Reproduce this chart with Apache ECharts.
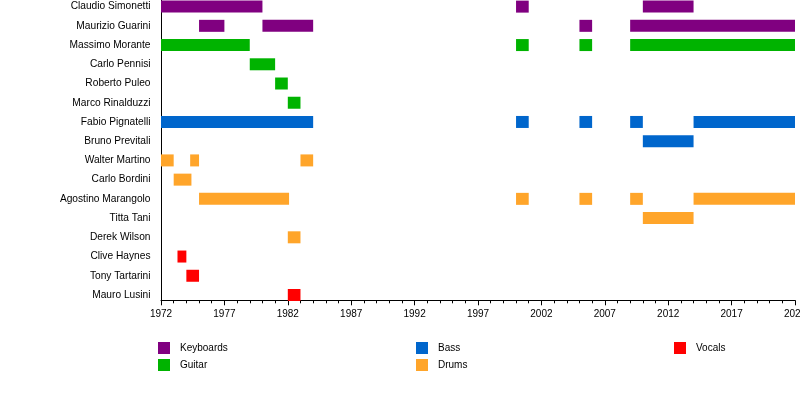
<!DOCTYPE html>
<html>
<head>
<meta charset="utf-8">
<script src="https://cdn.jsdelivr.net/npm/echarts@6/dist/echarts.min.js"></script>
<style>html,body{margin:0;padding:0;background:#fff}#c{width:800px;height:420px}</style>
</head>
<body>
<div id="c"></div>
<script>
const members = ['Claudio Simonetti','Maurizio Guarini','Massimo Morante','Carlo Pennisi','Roberto Puleo','Marco Rinalduzzi','Fabio Pignatelli','Bruno Previtali','Walter Martino','Carlo Bordini','Agostino Marangolo','Titta Tani','Derek Wilson','Clive Haynes','Tony Tartarini','Mauro Lusini'];
const roles = ['Keyboards','Guitar','Bass','Drums','Vocals'];
const yearTicks = [1972,1977,1982,1987,1992,1997,2002,2007,2012,2017,2022];

const keyboards = [
  ['Claudio Simonetti',1972,1980],['Claudio Simonetti',2000,2001],['Claudio Simonetti',2010,2014],
  ['Maurizio Guarini',1975,1977],['Maurizio Guarini',1980,1984],['Maurizio Guarini',2005,2006],['Maurizio Guarini',2009,2022]
];
const guitar = [
  ['Massimo Morante',1972,1979],['Massimo Morante',2000,2001],['Massimo Morante',2005,2006],['Massimo Morante',2009,2022],
  ['Carlo Pennisi',1979,1981],['Roberto Puleo',1981,1982],['Marco Rinalduzzi',1982,1983]
];
const bass = [
  ['Fabio Pignatelli',1972,1984],['Fabio Pignatelli',2000,2001],['Fabio Pignatelli',2005,2006],['Fabio Pignatelli',2009,2010],['Fabio Pignatelli',2014,2022],
  ['Bruno Previtali',2010,2014]
];
const drums = [
  ['Walter Martino',1972,1973],['Walter Martino',1974.3,1975],['Walter Martino',1983,1984],
  ['Carlo Bordini',1973,1974.4],
  ['Agostino Marangolo',1975,1982.1],['Agostino Marangolo',2000,2001],['Agostino Marangolo',2005,2006],['Agostino Marangolo',2009,2010],['Agostino Marangolo',2014,2022],
  ['Titta Tani',2010,2014],['Derek Wilson',1982,1983]
];
const vocals = [
  ['Clive Haynes',1973.3,1974],['Tony Tartarini',1974,1975],['Mauro Lusini',1982,1983]
];

const roleData = {Keyboards: keyboards, Guitar: guitar, Bass: bass, Drums: drums, Vocals: vocals};
const roleColors = {Keyboards:'#800080', Guitar:'#00b300', Bass:'#0066cc', Drums:'#ffa52a', Vocals:'#ff0000'};

function renderBar(params, api) {
  const row = api.value(0);
  const s = api.coord([api.value(1), row]);
  const e = api.coord([api.value(2), row]);
  const h = 12;
  return {
    type: 'rect',
    shape: {x: s[0], y: s[1] - h / 2, width: e[0] - s[0], height: h},
    style: api.style()
  };
}

const series = roles.map(r => ({
  name: r,
  type: 'custom',
  xAxisIndex: 0,
  yAxisIndex: 0,
  renderItem: renderBar,
  itemStyle: {color: roleColors[r]},
  encode: {x: [1, 2], y: 0},
  data: roleData[r].map(d => [members.indexOf(d[0]), d[1], d[2]]),
  silent: true
}));

const legendBase = {
  orient: 'vertical', top: 342, itemWidth: 12, itemHeight: 12, itemGap: 5, padding: 0,
  icon: 'rect', selectedMode: false,
  textStyle: {fontSize: 10, color: '#000', fontFamily: 'Liberation Sans', padding: [0,0,0,5]}
};

const chart = echarts.init(document.getElementById('c'), null, {renderer: 'canvas'});
chart.setOption({
  animation: false,
  backgroundColor: '#fff',
  textStyle: {fontFamily: 'Liberation Sans'},
  grid: [
    {left: 161, right: 5, top: -3, height: 307.6, containLabel: false, outerBoundsMode: 'none'},
    {left: 161, right: 5, top: 0, height: 300.3, containLabel: false, outerBoundsMode: 'none'}
  ],
  xAxis: [
    {type: 'value', gridIndex: 0, min: yearTicks[0], max: yearTicks[yearTicks.length-1], show: false},
    {type: 'value', gridIndex: 1, min: yearTicks[0], max: yearTicks[yearTicks.length-1], interval: 5,
      axisLine: {show: true, lineStyle: {color: '#000', width: 1}},
      axisTick: {show: true, length: 5, lineStyle: {color: '#000'}},
      minorTick: {show: true, splitNumber: 5, length: 3, lineStyle: {color: '#000'}},
      splitLine: {show: false},
      axisLabel: {fontSize: 10, color: '#000', margin: 9, fontFamily: 'Liberation Sans', showMaxLabel: true, showMinLabel: true,
        formatter: v => String(v)}
    }
  ],
  yAxis: [
    {type: 'category', gridIndex: 0, data: members, inverse: true,
      axisLine: {show: false}, axisTick: {show: false}, splitLine: {show: false},
      axisLabel: {fontSize: 10.2, color: '#000', margin: 10.5, fontFamily: 'Liberation Sans', interval: 0}
    },
    {type: 'value', gridIndex: 1, min: 0, max: 1,
      axisLine: {show: true, lineStyle: {color: '#000', width: 1}},
      axisTick: {show: false}, axisLabel: {show: false}, splitLine: {show: false}
    }
  ],
  legend: [
    Object.assign({}, legendBase, {left: 158, data: ['Keyboards','Guitar']}),
    Object.assign({}, legendBase, {left: 416, data: ['Bass','Drums']}),
    Object.assign({}, legendBase, {left: 674, data: ['Vocals']})
  ],
  series: series
});
</script>
</body>
</html>
